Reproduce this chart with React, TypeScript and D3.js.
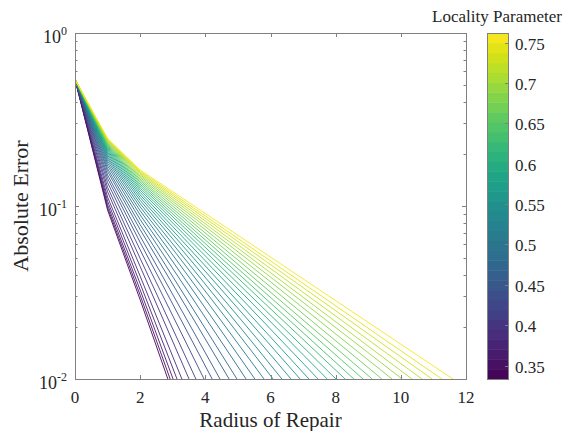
import React from "react";
import * as d3 from "d3";

const W = 571;
const H = 431;

// error at radius 0 (all curves start here)
const startError = 0.54;

// one curve per locality parameter value
const localityParams = [
  0.339, 0.351, 0.364, 0.376, 0.388, 0.4, 0.413, 0.425, 0.437, 0.449, 0.462, 0.474,
  0.486, 0.498, 0.511, 0.523, 0.535, 0.547, 0.56, 0.572, 0.584, 0.596, 0.609, 0.621,
  0.633, 0.645, 0.658, 0.67, 0.682, 0.694, 0.707, 0.719, 0.731, 0.743, 0.756,
];
// error at radius 1
const errAt1 = [
  0.0947, 0.0978, 0.1016, 0.1066, 0.1126, 0.1209, 0.1283, 0.1366, 0.1443, 0.1511, 0.1586, 0.1644,
  0.1708, 0.1766, 0.1822, 0.1874, 0.192, 0.1966, 0.2009, 0.2047, 0.2085, 0.2121, 0.2153, 0.2185,
  0.2214, 0.2242, 0.227, 0.2297, 0.2323, 0.2349, 0.2372, 0.2395, 0.2417, 0.2437, 0.2459,
];
// error at radius 2
const errAt2 = [
  0.0287, 0.0305, 0.0327, 0.0356, 0.0393, 0.0447, 0.0498, 0.0558, 0.0616, 0.0669, 0.073, 0.078,
  0.0836, 0.0888, 0.0939, 0.0988, 0.1033, 0.1078, 0.112, 0.1159, 0.1198, 0.1236, 0.127, 0.1304,
  0.1336, 0.1367, 0.1398, 0.1428, 0.1459, 0.1488, 0.1515, 0.1541, 0.1567, 0.159, 0.1616,
];
// radius where each curve reaches 1e-2 (bottom of the axes)
const radiusAtFloor = [
  2.85, 2.92, 3.01, 3.13, 3.28, 3.5, 3.71, 3.96, 4.21, 4.45, 4.73, 4.97,
  5.25, 5.52, 5.8, 6.08, 6.35, 6.63, 6.91, 7.18, 7.46, 7.74, 8.01, 8.29,
  8.56, 8.84, 9.12, 9.42, 9.73, 10.04, 10.34, 10.65, 10.96, 11.26, 11.6,
];

const xTicks = [0, 2, 4, 6, 8, 10, 12];
const yDecades = [-2, -1, 0];
const cbTicks = [0.35, 0.4, 0.45, 0.5, 0.55, 0.6, 0.65, 0.7, 0.75];
const cbTickLabels = ["0.35", "0.4", "0.45", "0.5", "0.55", "0.6", "0.65", "0.7", "0.75"];
const cbDomain = [0.3333, 0.7619];

const plot = { left: 75, right: 466, top: 33, bottom: 379 };
const cb = { left: 487, right: 508 };
const axisColor = "#808080";
const textColor = "#262626";
const font = '"Liberation Serif", "Times New Roman", "DejaVu Serif", serif';

export default function App() {
  const x = d3.scaleLinear().domain([0, 12]).range([plot.left, plot.right]);
  const y = d3.scaleLog().domain([0.01, 1]).range([plot.bottom, plot.top]);
  const cbScale = d3.scaleLinear().domain(cbDomain).range([plot.bottom, plot.top]);
  const n = localityParams.length;
  const colorOf = (p: number) => d3.interpolateViridis((p - cbDomain[0]) / (cbDomain[1] - cbDomain[0]));

  const line = d3
    .line<[number, number]>()
    .x((d) => x(d[0]))
    .y((d) => y(d[1]));

  const minor: number[] = [];
  yDecades.slice(0, -1).forEach((d) => {
    for (let m = 2; m <= 9; m++) minor.push(m * Math.pow(10, d));
  });

  // colorbar bands, one per curve
  const bandEdges = d3.range(n + 1).map((i) => cbDomain[0] + ((cbDomain[1] - cbDomain[0]) * i) / n);
  const ts = { fontFamily: font, fill: textColor };

  return (
    <svg width={W} height={H} style={{ position: "absolute", left: 0, top: 0, background: "#fff", fontFamily: font }}>
      <defs>
        <clipPath id="plotclip">
          <rect x={plot.left} y={plot.top} width={plot.right - plot.left} height={plot.bottom - plot.top} />
        </clipPath>
      </defs>

      <g clipPath="url(#plotclip)" fill="none" strokeWidth={0.9}>
        {localityParams.map((p, i) => {
          const pts: [number, number][] = [
            [0, startError],
            [1, errAt1[i]],
            [2, errAt2[i]],
            [radiusAtFloor[i], 0.01],
          ];
          return <path key={i} d={line(pts) || ""} stroke={colorOf(p)} />;
        })}
      </g>

      {/* axes box */}
      <rect
        x={plot.left + 0.5}
        y={plot.top + 0.5}
        width={plot.right - plot.left}
        height={plot.bottom - plot.top}
        fill="none"
        stroke={axisColor}
      />
      {xTicks.map((t) => (
        <g key={"x" + t}>
          <line x1={Math.round(x(t)) + 0.5} x2={Math.round(x(t)) + 0.5} y1={plot.bottom} y2={plot.bottom - 4} stroke={axisColor} />
          <line x1={Math.round(x(t)) + 0.5} x2={Math.round(x(t)) + 0.5} y1={plot.top} y2={plot.top + 4} stroke={axisColor} />
          <text x={x(t)} y={plot.bottom + 24} textAnchor="middle" fontSize={17} style={ts}>
            {t}
          </text>
        </g>
      ))}
      {yDecades.map((d) => {
        const yy = Math.round(y(Math.pow(10, d))) + 0.5;
        return (
          <g key={"y" + d}>
            <line x1={plot.left} x2={plot.left + 4} y1={yy} y2={yy} stroke={axisColor} />
            <line x1={plot.right} x2={plot.right - 4} y1={yy} y2={yy} stroke={axisColor} />
            <text x={plot.left - 8} y={yy + 9.5} textAnchor="end" fontSize={18} style={ts}>
              10
              <tspan dy={-8.5} fontSize={12}>
                {d}
              </tspan>
            </text>
          </g>
        );
      })}
      {minor.map((v) => {
        const yy = Math.round(y(v)) + 0.5;
        return (
          <g key={"m" + v}>
            <line x1={plot.left} x2={plot.left + 2.5} y1={yy} y2={yy} stroke={axisColor} />
            <line x1={plot.right} x2={plot.right - 2.5} y1={yy} y2={yy} stroke={axisColor} />
          </g>
        );
      })}

      <text x={(plot.left + plot.right) / 2} y={427} textAnchor="middle" fontSize={21} style={ts}>
        Radius of Repair
      </text>
      <text
        transform={`translate(28,${(plot.top + plot.bottom) / 2}) rotate(-90)`}
        textAnchor="middle"
        fontSize={22}
        style={ts}
      >
        Absolute Error
      </text>

      {/* colorbar */}
      {d3.range(n).map((i) => (
        <rect
          key={"b" + i}
          x={cb.left}
          width={cb.right - cb.left}
          y={cbScale(bandEdges[i + 1])}
          height={cbScale(bandEdges[i]) - cbScale(bandEdges[i + 1]) + 0.5}
          fill={colorOf(localityParams[i])}
        />
      ))}
      <rect
        x={cb.left + 0.5}
        y={plot.top + 0.5}
        width={cb.right - cb.left}
        height={plot.bottom - plot.top}
        fill="none"
        stroke={axisColor}
      />
      {cbTicks.map((t, i) => {
        const yy = Math.round(cbScale(t)) + 0.5;
        return (
          <g key={"c" + t}>
            <line x1={cb.right} x2={cb.right - 3} y1={yy} y2={yy} stroke={axisColor} />
            <text x={cb.right + 7} y={yy + 6} fontSize={17} style={ts}>
              {cbTickLabels[i]}
            </text>
          </g>
        );
      })}
      <text x={497} y={22} textAnchor="middle" fontSize={17} style={ts}>
        Locality Parameter
      </text>
    </svg>
  );
}
